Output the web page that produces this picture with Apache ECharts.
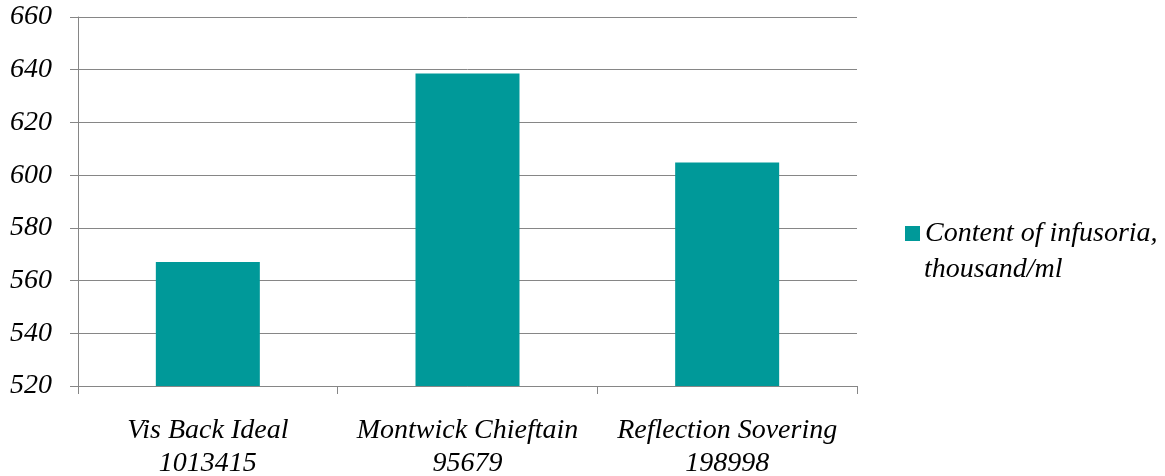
<!DOCTYPE html>
<html>
<head>
<meta charset="utf-8">
<script src="https://cdn.jsdelivr.net/npm/echarts@6/dist/echarts.min.js"></script>
<style>
  html, body { margin: 0; padding: 0; background: #fff; }
  #chart { width: 1165px; height: 476px; }
</style>
</head>
<body>
<div id="chart"></div>
<script>
// data
const categories = ['Vis Back Ideal\n1013415', 'Montwick Chieftain\n95679', 'Reflection Sovering\n198998'];
const infusoria = [567, 638.6, 604.8];
const seriesName = 'Content of infusoria,\nthousand/ml';

const font = 'Liberation Serif';
const gridColor = '#868686';
const nameLines = seriesName.split('\n');

const chart = echarts.init(document.getElementById('chart'));

const option = {
    animation: false,
    backgroundColor: '#fff',
    grid: { left: 78, right: 308, top: 17, bottom: 90, outerBoundsMode: 'none' },
    legend: {
        data: [seriesName],
        left: 900,
        top: 211,
        icon: 'rect',
        itemWidth: 15,
        itemHeight: 15,
        // legend only holds the first line, the second is put below it
        formatter: () => nameLines[0],
        textStyle: {
            fontFamily: font,
            fontStyle: 'italic',
            fontSize: 28,
            color: '#000',
            lineHeight: 35
        }
    },
    graphic: [
        {
            type: 'text',
            left: 924,
            top: 256,
            style: {
                text: nameLines[1],
                font: 'italic 28px "Liberation Serif"',
                fill: '#000'
            }
        }
    ],
    xAxis: {
        type: 'category',
        data: categories,
        axisLine: { lineStyle: { color: gridColor, width: 1 } },
        axisTick: { show: true, length: 8, alignWithLabel: false, lineStyle: { color: gridColor } },
        axisLabel: {
            interval: 0,
            margin: 28,
            fontFamily: font,
            fontStyle: 'italic',
            fontSize: 28,
            color: '#000',
            lineHeight: 33
        }
    },
    yAxis: {
        type: 'value',
        min: 520,
        max: 660,
        interval: 20,
        axisLine: { show: true, lineStyle: { color: gridColor, width: 1 } },
        axisTick: { show: true, length: 8, lineStyle: { color: gridColor } },
        splitLine: { lineStyle: { color: gridColor, width: 1 } },
        axisLabel: {
            margin: 26,
            fontFamily: font,
            fontStyle: 'italic',
            fontSize: 28,
            color: '#000'
        }
    },
    series: [
        {
            name: seriesName,
            type: 'bar',
            data: infusoria,
            barWidth: 104,
            itemStyle: { color: '#009999' }
        }
    ]
};

chart.setOption(option);
</script>
</body>
</html>
